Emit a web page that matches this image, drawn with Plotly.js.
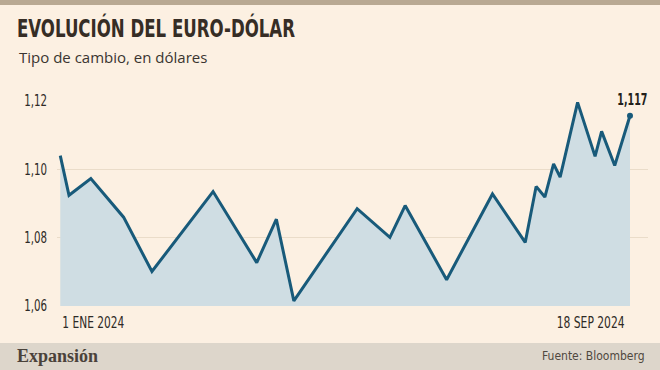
<!DOCTYPE html>
<html>
<head>
<meta charset="utf-8">
<script src="https://cdn.plot.ly/plotly-3.0.1.min.js"></script>
<style>
  html, body { margin: 0; padding: 0; background: #fcf0e2; }
  #chart { width: 660px; height: 370px; }
</style>
</head>
<body>
<div id="chart"></div>
<script>
// Data
const dates = [
  '2024-01-01', '2024-01-05', '2024-01-15', '2024-01-30', '2024-02-12',
  '2024-03-11', '2024-03-31', '2024-04-09', '2024-04-17', '2024-05-16',
  '2024-05-31', '2024-06-07', '2024-06-26', '2024-07-17', '2024-08-01',
  '2024-08-06', '2024-08-10', '2024-08-14', '2024-08-17', '2024-08-25',
  '2024-09-02', '2024-09-05', '2024-09-11', '2024-09-18'
];
const rates = [
  1.104, 1.0924, 1.0973, 1.086, 1.0701,
  1.0935, 1.0727, 1.0854, 1.0615, 1.0885,
  1.0801, 1.0894, 1.0677, 1.0928, 1.0786,
  1.095, 1.0919, 1.1016, 1.0977, 1.1196,
  1.1038, 1.1111, 1.1011, 1.1157
];
const yTicks = [1.06, 1.08, 1.10, 1.12];
const xLabels = ['1 ENE 2024', '18 SEP 2024'];
const lastLabel = '1,117';
const titleText = 'EVOLUCIÓN DEL EURO-DÓLAR';
const subtitleText = 'Tipo de cambio, en dólares';
const sourceText = 'Fuente: Bloomberg';
const brandText = 'Expansión';

const cream = '#fcf0e2';
const lineColor = '#185a7a';
const narrow = '"DejaVu Sans Condensed", "Liberation Sans", sans-serif';

const lastDate = dates[dates.length - 1];
const lastRate = rates[rates.length - 1];

const traces = [
  {
    x: dates, y: rates, type: 'scatter', mode: 'lines',
    line: { color: lineColor, width: 3, shape: 'linear' },
    fill: 'tozeroy', fillcolor: '#cfdde3',
    hoverinfo: 'skip'
  },
  {
    x: [lastDate], y: [lastRate], type: 'scatter', mode: 'markers',
    marker: { color: lineColor, size: 6 },
    cliponaxis: false, hoverinfo: 'skip'
  }
];

const layout = {
  width: 660, height: 370,
  margin: { l: 57, r: 12, t: 101, b: 64 },
  paper_bgcolor: cream, plot_bgcolor: cream,
  showlegend: false,
  separators: ',.',
  title: {
    text: titleText,
    font: { family: narrow, size: 24, color: '#362d25', weight: 'bold' },
    xref: 'container', yref: 'container',
    x: 17 / 660, xanchor: 'left',
    y: 1 - 29 / 370, yanchor: 'middle'
  },
  xaxis: {
    type: 'date',
    range: ['2023-12-30 12:00', '2024-09-26 06:00'],
    showgrid: false, zeroline: false, showline: false,
    showticklabels: false, ticks: ''
  },
  yaxis: {
    range: [1.06, 1.12],
    tickvals: yTicks, tickformat: '.2f',
    showgrid: true, gridcolor: '#eadcc9', gridwidth: 1,
    zeroline: false, showline: false, ticks: '',
    ticklabelstandoff: 9,
    tickfont: { family: narrow, size: 15, color: '#2e2a26' }
  },
  shapes: [
    { type: 'rect', xref: 'paper', yref: 'paper', x0: -0.1, x1: 1.03,
      y0: (306 - 0) / 205 + 0.01, y1: (306 - 5) / 205, fillcolor: '#b9a993', line: { width: 0 }, layer: 'below' },
    { type: 'rect', xref: 'paper', yref: 'paper', x0: -0.1, x1: 1.03,
      y0: (306 - 343) / 205, y1: (306 - 372) / 205, fillcolor: '#ddd6cb', line: { width: 0 }, layer: 'below' }
  ],
  annotations: [
    { text: subtitleText, xref: 'paper', yref: 'paper',
      x: (17 - 57) / 591, y: (306 - 57) / 205, xanchor: 'left', yanchor: 'middle',
      showarrow: false, font: { family: '"Open Sans", sans-serif', size: 15, color: '#3a3530' } },
    { text: xLabels[0], xref: 'x', yref: 'paper', x: dates[0], y: (306 - 323) / 205,
      xanchor: 'center', yanchor: 'middle', xshift: 33, showarrow: false,
      font: { family: narrow, size: 15, color: '#2e2a26' } },
    { text: xLabels[1], xref: 'x', yref: 'paper', x: lastDate, y: (306 - 323) / 205,
      xanchor: 'center', yanchor: 'middle', xshift: -39, showarrow: false,
      font: { family: narrow, size: 15, color: '#2e2a26' } },
    { text: lastLabel, xref: 'x', yref: 'y', x: lastDate, y: lastRate,
      xanchor: 'center', yanchor: 'bottom', xshift: 3, yshift: 5, showarrow: false,
      font: { family: narrow, size: 15, color: '#231f1b', weight: 'bold' } },
    { text: brandText, xref: 'paper', yref: 'paper',
      x: (15 - 57) / 591, y: (306 - 356) / 205, xanchor: 'left', yanchor: 'middle',
      showarrow: false, font: { family: '"Liberation Serif", "DejaVu Serif", serif', size: 18, color: '#4a423a', weight: 'bold' } },
    { text: sourceText, xref: 'paper', yref: 'paper',
      x: (647 - 57) / 591, y: (306 - 356) / 205, xanchor: 'right', yanchor: 'middle',
      showarrow: false, font: { family: narrow, size: 12, color: '#4f4840' } }
  ]
};

// Target rendered widths (px) to mimic the condensed typeface of the reference
const annWidths = { 1: 62, 2: 68, 3: 30 };

function fitWidth(el, w) {
  if (!el) return;
  el.setAttribute('textLength', w);
  el.setAttribute('lengthAdjust', 'spacingAndGlyphs');
}

Plotly.newPlot('chart', traces, layout, { staticPlot: true, displayModeBar: false }).then(gd => {
  fitWidth(gd.querySelector('.gtitle'), 278);
  gd.querySelectorAll('.ytick text').forEach(t => {
    fitWidth(t, t.getComputedTextLength() * 0.76);
  });
  gd.querySelectorAll('.annotation').forEach(g => {
    const idx = +g.getAttribute('data-index');
    if (annWidths[idx] !== undefined) {
      fitWidth(g.querySelector('text.annotation-text'), annWidths[idx]);
    }
  });
});
</script>
</body>
</html>
